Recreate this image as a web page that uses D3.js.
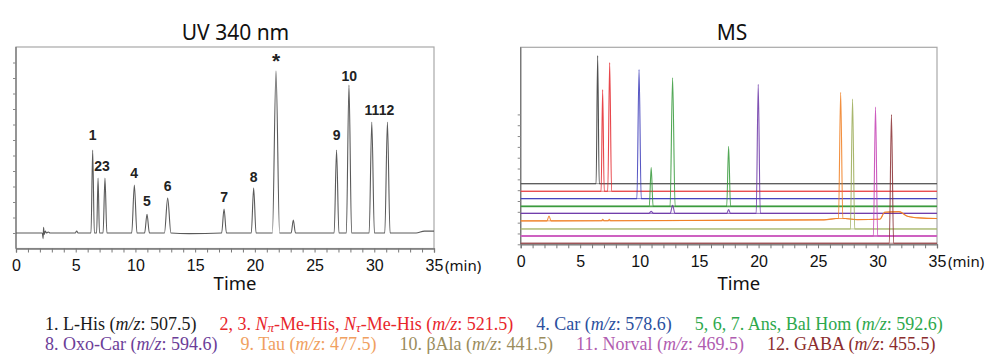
<!DOCTYPE html>
<html><head><meta charset="utf-8">
<script src="https://cdn.jsdelivr.net/npm/d3@7/dist/d3.min.js"></script>
<style>body{margin:0;background:#fff}svg{display:block}</style>
</head><body>
<svg id="c" width="1000" height="360"></svg>
<script>
// ---------- DATA ----------
const xTicks = d3.range(0, 36, 1);
const xTickLabels = [0, 5, 10, 15, 20, 25, 30, 35];
// UV 340 nm peaks: [time(min), height, half base width]
const uvPeaks = [
  [5.08, 1.3, 0.12], [6.42, 53.5, 0.14], [6.87, 35.5, 0.12], [7.45, 35.5, 0.16],
  [9.91, 31, 0.22], [10.97, 12, 0.2], [12.7, 22.5, 0.27], [17.42, 15.5, 0.2],
  [19.9, 29, 0.2], [21.77, 104.5, 0.3], [23.22, 8.4, 0.18], [26.84, 53.5, 0.2],
  [27.88, 95.5, 0.22], [29.79, 71.6, 0.22], [31.1, 71.6, 0.22]
];
// UV baseline / noise points: [time, value]
const uvBase = [[0, 0], [2.2, 0], [2.27, -3.6], [2.31, 3.6], [2.36, -1], [2.45, 1.2], [2.55, 0], [2.7, 0.6], [2.85, 0], [14.5, -0.4], [33.5, 0], [34.2, 1.2], [35, 1.2]];
// peak labels: [text, time, value]
const uvLabels = [
  ["1", 6.42, 60], ["23", 7.2, 40], ["4", 9.9, 35.5], ["5", 10.97, 17.7], ["6", 12.7, 26.8],
  ["7", 17.42, 20], ["8", 19.9, 32.6], ["*", 21.77, 106.5], ["9", 26.84, 59.7], ["10", 27.9, 98], ["1112", 30.43, 76]
];
const uvYTicks = d3.range(0, 111, 10);

// MS traces
const msColors = ["#333333", "#e4262c", "#3a3ab8", "#35993a", "#6a34a6", "#f07d1e", "#9aaa55", "#c440b4", "#8a2f33"];
const msBaseColors = ["#9a9a9a", "#ea7a7a", "#7a7ad6", "#5aa85a", "#8a62c0", "#f29a55", "#bccb92", "#d57acb", "#b57d80"];
const msBaseWidths = [1, 1, 1, 1.6, 1, 1, 1, 2, 1];
const msOffsets = [28, 24.5, 21.1, 17.5, 14.3, 10.8, 7.1, 3.8, 0.5];
// per trace peaks: [time, height, half width, base level]
const msPeaks = [
  [[6.47, 59.2, 0.13, 0]],
  [[6.89, 47, 0.13, 0], [7.48, 59.4, 0.16, 0]],
  [[9.95, 59.6, 0.18, 0]],
  [[10.97, 17.9, 0.16, 0], [12.77, 59.4, 0.21, 0], [17.48, 27.8, 0.16, 0]],
  [[10.97, 0.9, 0.2, 0], [12.77, 3.7, 0.2, 0], [17.48, 1.8, 0.15, 0], [19.97, 59.6, 0.17, 0]],
  [[2.38, 2.2, 0.18, 0], [6.9, 0.8, 0.1, 0.1], [7.45, 0.8, 0.1, 0.1], [26.9, 59.4, 0.18, 1.2]],
  [[27.9, 60, 0.18, 0]],
  [[29.83, 59.6, 0.18, 0]],
  [[31.17, 59.4, 0.18, 0]]
];
const msBase = [
  [[0, 0], [35, 0]], [[0, 0], [35, 0]], [[0, 0], [35, 0]], [[0, 0], [35, 0]], [[0, 0], [35, 0]],
  [[0, 0], [25.5, 0.5], [26.5, 1.1], [27.3, 1.1], [28.3, 0.6], [30.2, 0.8], [30.6, 4], [31.8, 4.3], [32.5, 2.2], [33.5, 1.4], [35, 1.1]],
  [[0, 0], [35, 0]], [[0, 0], [35, 0]], [[0, 0], [35, 0]]
];
const msYTicks = d3.range(0, 61, 5);

// legend
const legendLines = [
  [
    {color: "#1a1a1a", parts: [["1. L-His ("], ["m/z", "i"], [": 507.5)"]]},
    {color: "#e8262b", parts: [["2, 3. "], ["N", "i"], ["π", "sub"], ["-Me-His, "], ["N", "i"], ["τ", "sub"], ["-Me-His ("], ["m/z", "i"], [": 521.5)"]]},
    {color: "#2b4f9e", parts: [["4. Car ("], ["m/z", "i"], [": 578.6)"]]},
    {color: "#2ea84c", parts: [["5, 6, 7. Ans, Bal Hom ("], ["m/z", "i"], [": 592.6)"]]}
  ],
  [
    {color: "#6b3d98", parts: [["8. Oxo-Car ("], ["m/z", "i"], [": 594.6)"]]},
    {color: "#f0a060", parts: [["9. Tau ("], ["m/z", "i"], [": 477.5)"]]},
    {color: "#9a8c5c", parts: [["10. βAla ("], ["m/z", "i"], [": 441.5)"]]},
    {color: "#b05cb0", parts: [["11. Norval ("], ["m/z", "i"], [": 469.5)"]]},
    {color: "#8b2d2d", parts: [["12. GABA ("], ["m/z", "i"], [": 455.5)"]]}
  ]
];

// ---------- DRAW ----------
const svg = d3.select("#c");
const sansTick = "'Liberation Sans', Arial, sans-serif";
const sansTxt = "'Noto Sans', 'Open Sans', sans-serif";

function peakPoints(peaks, base) {
  let pts = base.slice();
  peaks.forEach(([t, h, w, b]) => { pts.push([t - w, b || 0], [t, h], [t + w, b || 0]); });
  return pts.sort((a, b) => a[0] - b[0]);
}

function drawPanel(cfg) {
  const x = d3.scaleLinear().domain([0, 35]).range([cfg.x0, cfg.x1]);
  const y = d3.scaleLinear().domain(cfg.yDomain).range([cfg.yb, cfg.yt]);
  const g = svg.append("g");
  g.append("rect").attr("x", cfg.x0).attr("y", cfg.yt).attr("width", cfg.x1 - cfg.x0).attr("height", cfg.yb - cfg.yt)
    .attr("fill", "none").attr("stroke", "#a8a8a8").attr("stroke-width", 1.2);
  const ya = d3.axisLeft(y).tickValues(cfg.yTicks).tickSize(3).tickFormat("");
  const yg = g.append("g").attr("transform", `translate(${cfg.x0},0)`).call(ya);
  yg.select(".domain").attr("stroke", "#777").attr("stroke-width", 1.3).attr("d", `M0,${cfg.yt}V${cfg.yb}`);
  yg.selectAll(".tick line").attr("stroke", "#888");
  const xa = d3.axisBottom(x).tickValues(xTicks).tickSize(4).tickPadding(cfg.pad)
    .tickFormat(d => xTickLabels.includes(d) ? d : "");
  const xg = g.append("g").attr("transform", `translate(0,${cfg.yb})`).call(xa);
  xg.select(".domain").attr("stroke", "#777").attr("stroke-width", 1.3);
  xg.selectAll(".tick line").attr("stroke", "#777");
  xg.selectAll(".tick text").attr("font-family", sansTick).attr("font-size", 16).attr("fill", "#111");
  g.append("text").attr("x", x(35) + 11).attr("y", cfg.yb + 22.3).attr("font-family", sansTxt).attr("font-size", 15).attr("fill", "#111").text("(min)");
  g.append("text").attr("x", (cfg.x0 + cfg.x1) / 2 + 10).attr("y", 290).attr("text-anchor", "middle").attr("font-family", sansTxt).attr("font-size", 18.5).attr("fill", "#111").text("Time");
  g.append("text").attr("x", cfg.titleX).attr("y", 40).attr("text-anchor", "middle").attr("font-family", sansTxt).attr("font-size", 21).attr("fill", "#111").text(cfg.title);
  return {g, x, y};
}

// UV panel
const uv = drawPanel({x0: 16, x1: 434, yt: 47, yb: 248.5, yDomain: [-10, 120], yTicks: uvYTicks, pad: 7, title: "UV 340 nm", titleX: 235.5});
const uvLine = d3.line().x(d => uv.x(d[0])).y(d => uv.y(d[1])).curve(d3.curveMonotoneX);
uv.g.append("path").datum(peakPoints(uvPeaks, uvBase)).attr("d", uvLine)
  .attr("fill", "none").attr("stroke", "#5a5a5a").attr("stroke-width", 1.1);
uv.g.selectAll("text.pl").data(uvLabels).join("text").attr("class", "pl")
  .attr("x", d => uv.x(d[1])).attr("y", d => uv.y(d[2])).attr("text-anchor", "middle")
  .attr("font-family", sansTick).attr("font-weight", "bold").attr("font-size", d => d[0] === "*" ? 21 : 14).attr("fill", "#222")
  .text(d => d[0]);

// MS panel
const ms = drawPanel({x0: 520.7, x1: 937, yt: 47.3, yb: 244.3, yDomain: [0, 91], yTicks: msYTicks, pad: 7.7, title: "MS", titleX: 732});
msOffsets.forEach((off, i) => {
  const line = d3.line().x(d => ms.x(d[0])).y(d => ms.y(d[1] + off)).curve(d3.curveMonotoneX);
  ms.g.append("path").datum(msBase[i]).attr("d", line).attr("fill", "none")
    .attr("stroke", msBaseColors[i]).attr("stroke-width", msBaseWidths[i]);
  ms.g.append("path").datum(peakPoints(msPeaks[i], msBase[i])).attr("d", line).attr("fill", "none")
    .attr("stroke", msColors[i]).attr("stroke-width", 1.1).attr("stroke-opacity", 0.85);
});

// legend
const lineY = [330, 349.5];
legendLines.forEach((items, li) => {
  let cx = 45;
  items.forEach(it => {
    const t = svg.append("text").attr("x", cx).attr("y", lineY[li]).attr("font-family", "'Liberation Serif', 'Times New Roman', serif")
      .attr("font-size", 18).attr("fill", it.color);
    it.parts.forEach(([s, st]) => {
      const ts = t.append("tspan").text(s);
      if (st === "i") ts.attr("font-style", "italic");
      if (st === "sub") ts.attr("font-style", "italic").attr("font-size", 13).attr("dy", 2);
    });
    t.selectAll("tspan").each(function (d, k, nodes) {
      const prev = nodes[k - 1];
      if (prev && prev.getAttribute("dy") === "2" && this.getAttribute("dy") !== "2") this.setAttribute("dy", -2);
    });
    cx += t.node().getComputedTextLength() + 23;
  });
});
</script>
</body></html>
